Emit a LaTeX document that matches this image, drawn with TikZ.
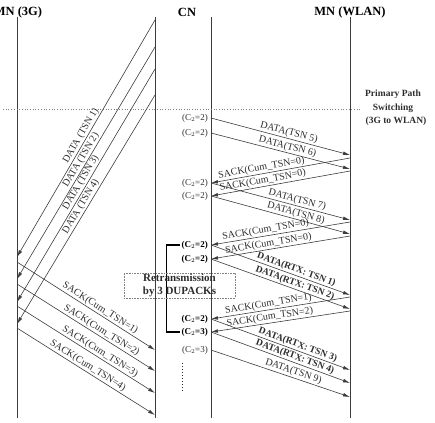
\documentclass[tikz,border=0pt]{standalone}
\usepackage{fontspec}
\setmainfont{Liberation Serif}
\usetikzlibrary{arrows.meta}

\definecolor{LineGray}{RGB}{60,60,60}
\definecolor{TextGray}{RGB}{45,45,45}

\tikzset{
  lifeline/.style={draw=LineGray, line width=0.8pt},
  msg/.style={draw=LineGray, line width=0.6pt, -{Latex[length=7pt,width=3.6pt]}},
  msglabel/.style={font=\fontsize{10}{11}\selectfont, text=TextGray, sloped, above, inner sep=1pt},
  msgbold/.style={msglabel, font=\fontsize{9.5}{11}\selectfont\bfseries},
  ctag/.style={font=\fontsize{9}{10}\selectfont, text=TextGray, anchor=east, inner sep=1pt},
  ctagbold/.style={ctag, font=\fontsize{9}{10}\selectfont\bfseries, text=black},
  heading/.style={font=\fontsize{12.5}{14}\selectfont\bfseries},
  bracket/.style={draw=black, line width=1.3pt},
  retxbox/.style={draw=gray, densely dotted, line width=0.6pt, minimum width=111pt, minimum height=25pt,
    align=center, font=\fontsize{11}{13}\selectfont\bfseries, text=TextGray, inner sep=0pt},
}

\begin{document}
\begin{tikzpicture}[x=1pt,y=-1pt]
  \path[use as bounding box] (0,0) rectangle (435,422);

  % endpoints and lifelines
  \node[heading] (mn3g) at (18,12) {MN (3G)};
  \node[heading] (cn) at (187,12) {CN};
  \node[heading] (mnwlan) at (350,12) {MN (WLAN)};
  \foreach \x/\n in {17/l3g, 155/lcn3g, 211/lcn, 350/lwlan}{
    \coordinate (\n top) at (\x,17);
    \coordinate (\n bot) at (\x,418);
    \draw[lifeline] (\n top) -- (\n bot);
  }

  % path switch marker
  \coordinate (sw west) at (3,109);
  \coordinate (sw east) at (360,109);
  \draw[gray, dotted, line width=0.7pt] (sw west) -- (sw east);
  \node[align=center, font=\fontsize{9.5}{13.5}\selectfont\bfseries, text=TextGray] (switch) at (393,108)
    {Primary Path\\Switching\\\hspace*{6pt}(3G to WLAN)};

  % 3G path: data towards the MN, sacks back
  \foreach \ys/\ye [count=\i] in {20/257, 47/279, 69/302, 95/324}{
    \coordinate (gd\i s) at (155,\ys);
    \coordinate (gd\i e) at (17,\ye);
    \draw[msg] (gd\i s) -- node[msglabel, pos=0.5] {DATA (TSN \i)} (gd\i e);
  }
  \foreach \ys/\ye/\p [count=\i] in {262/350/0.58, 284/371/0.59, 306/393/0.58, 328/415/0.49}{
    \coordinate (gs\i s) at (17,\ys);
    \coordinate (gs\i e) at (155,\ye);
    \draw[msg] (gs\i s) -- node[msglabel, pos=\p] {SACK(Cum\_TSN=\i)} (gs\i e);
  }

  % congestion window tags at the CN
  \node[ctag] (ct1) at (209,118) {(C$_2$=2)};
  \node[ctag] (ct2) at (209,133) {(C$_2$=2)};
  \node[ctag] (ct3) at (209,183) {(C$_2$=2)};
  \node[ctag] (ct4) at (209,196) {(C$_2$=2)};
  \node[ctagbold] (ct5) at (209,245) {(C$_2$=2)};
  \node[ctagbold] (ct6) at (209,259) {(C$_2$=2)};
  \node[ctagbold] (ct7) at (209,319) {(C$_2$=2)};
  \node[ctagbold] (ct8) at (209,332) {(C$_2$=3)};
  \node[ctag] (ct9) at (209,350) {(C$_2$=3)};
  \draw[dotted, line width=1pt, TextGray] (ct9.south) ++(-12,8) -- ++(0,28);

  \draw[bracket] (ct5.west) -- ++(-14,0) |- (ct8.west);
  \node[retxbox] (retx) at (179.5,285.5) {Retransmission\\by 3 DUPACKs};

  % WLAN path: new data and sacks
  \foreach \ys/\ye/\txt/\p [count=\k] in {
      118/155/DATA(TSN 5)/0.55, 133/169/DATA(TSN 6)/0.54,
      183/220/DATA(TSN 7)/0.61, 196/234/DATA(TSN 8)/0.60,
      350/397/DATA(TSN 9)/0.58}{
    \coordinate (wd\k s) at (211,\ys);
    \coordinate (wd\k e) at (350,\ye);
    \draw[msg] (wd\k s) -- node[msglabel, pos=\p] {\txt} (wd\k e);
  }
  \foreach \ys/\ye/\n/\p [count=\k] in {
      158/183/0/0.63, 171/196/0/0.62, 222/245/0/0.60,
      236/259/0/0.58, 297/319/1/0.58, 311/332/2/0.57}{
    \coordinate (ws\k s) at (350,\ys);
    \coordinate (ws\k e) at (211,\ye);
    \draw[msg] (ws\k s) -- node[msglabel, pos=\p] {SACK(Cum\_TSN=\n)} (ws\k e);
  }
  % retransmitted chunks
  \foreach \ys/\ye/\n/\p [count=\k] in {
      245/295/1/0.60, 259/309/2/0.59, 319/370/3/0.61, 332/383/4/0.59}{
    \coordinate (wr\k s) at (211,\ys);
    \coordinate (wr\k e) at (350,\ye);
    \draw[msg] (wr\k s) -- node[msgbold, pos=\p] {DATA(RTX: TSN \n)} (wr\k e);
  }
\end{tikzpicture}
\end{document}
